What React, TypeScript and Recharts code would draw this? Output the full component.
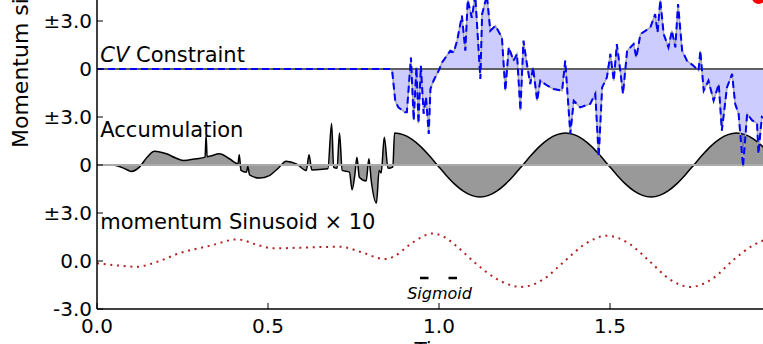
import React from 'react';
import {
  ComposedChart, Area, Line, Scatter, XAxis, YAxis, ReferenceLine, ReferenceDot, Label, Legend,
} from 'recharts';

// offsets of the three stacked traces on the shared y axis
const cvOffset = 12;
const accOffset = 6;
const sinOffset = 0;

const xTicks = [0, 0.5, 1, 1.5];
const xTickLabels = ['0.0', '0.5', '1.0', '1.5'];
const yTicks = [-3, 0, 3, 6, 9, 12, 15];
const yTickLabels = ['-3.0', '0.0', '±3.0', '0', '±3.0', '0', '±3.0'];

const cvConstraint = [
  { t: 0, v: 0 }, { t: 0.858, v: 0 }, { t: 0.863, v: -0.1 }, { t: 0.872, v: -1.98 }, { t: 0.881, v: -2.4 },
  { t: 0.901, v: -2.7 }, { t: 0.906, v: -2.7 }, { t: 0.918, v: 0.72 }, { t: 0.926, v: -3.2 }, { t: 0.934, v: 0.1 },
  { t: 0.94, v: -3.4 }, { t: 0.947, v: 0.2 }, { t: 0.955, v: -2.8 }, { t: 0.962, v: -1.77 }, { t: 0.97, v: -4.06 },
  { t: 0.975, v: -1.25 }, { t: 0.984, v: -0.73 }, { t: 0.999, v: -0.1 }, { t: 1.009, v: 0.41 }, { t: 1.033, v: 1.14 },
  { t: 1.043, v: 1.04 }, { t: 1.053, v: 1.77 }, { t: 1.067, v: 3.33 }, { t: 1.077, v: 1.14 }, { t: 1.084, v: 4.3 },
  { t: 1.096, v: 3.2 }, { t: 1.106, v: 4.6 }, { t: 1.121, v: -0.62 }, { t: 1.126, v: 3.43 }, { t: 1.14, v: 4.6 },
  { t: 1.15, v: 2.39 }, { t: 1.165, v: 2.7 }, { t: 1.184, v: 1.97 }, { t: 1.194, v: -1.35 }, { t: 1.204, v: 1.35 },
  { t: 1.218, v: 0.52 }, { t: 1.228, v: 0.94 }, { t: 1.238, v: -2.6 }, { t: 1.247, v: 1.77 }, { t: 1.257, v: 0.31 },
  { t: 1.267, v: -0.94 }, { t: 1.275, v: 0.1 }, { t: 1.287, v: -1.98 }, { t: 1.296, v: -0.73 }, { t: 1.314, v: -1.0 },
  { t: 1.335, v: -1.25 }, { t: 1.36, v: -1.35 }, { t: 1.369, v: 0.52 }, { t: 1.384, v: -4.06 }, { t: 1.394, v: -1.98 },
  { t: 1.413, v: -2.4 }, { t: 1.442, v: -2.18 }, { t: 1.457, v: -1.56 }, { t: 1.467, v: -5.5 }, { t: 1.477, v: -1.15 },
  { t: 1.491, v: -0.52 }, { t: 1.501, v: 0.94 }, { t: 1.511, v: -0.73 }, { t: 1.52, v: 1.56 }, { t: 1.53, v: -0.1 },
  { t: 1.538, v: -1.56 }, { t: 1.55, v: 1.14 }, { t: 1.569, v: 1.56 }, { t: 1.577, v: 0.72 }, { t: 1.589, v: 2.18 },
  { t: 1.618, v: 2.6 }, { t: 1.632, v: 3.43 }, { t: 1.639, v: 2.29 }, { t: 1.647, v: 4.3 }, { t: 1.657, v: 2.18 },
  { t: 1.671, v: 1.35 }, { t: 1.681, v: 2.39 }, { t: 1.691, v: 1.35 }, { t: 1.699, v: 4.06 }, { t: 1.711, v: 1.14 },
  { t: 1.725, v: 0.52 }, { t: 1.744, v: 0.2 }, { t: 1.759, v: -0.1 }, { t: 1.764, v: 1.14 }, { t: 1.774, v: -1.35 },
  { t: 1.788, v: -0.73 }, { t: 1.803, v: -1.98 }, { t: 1.818, v: -0.94 }, { t: 1.827, v: -3.85 }, { t: 1.842, v: -1.15 },
  { t: 1.857, v: -0.31 }, { t: 1.866, v: -2.18 }, { t: 1.876, v: -2.8 }, { t: 1.889, v: -6.1 }, { t: 1.901, v: -2.8 },
  { t: 1.915, v: -3.2 }, { t: 1.93, v: -3.4 }, { t: 1.934, v: -5.3 }, { t: 1.944, v: -3.0 }, { t: 1.96, v: -3.2 },
  { t: 1.98, v: -2.6 }, { t: 2.0, v: -2.8 },
];

const accumulation = [
  { t: 0, v: 0 }, { t: 0.047, v: 0 }, { t: 0.083, v: -0.25 }, { t: 0.1, v: -0.4 }, { t: 0.124, v: -0.13 },
  { t: 0.147, v: 0.5 }, { t: 0.168, v: 0.86 }, { t: 0.203, v: 0.7 }, { t: 0.229, v: 0.45 }, { t: 0.252, v: 0.28 },
  { t: 0.29, v: 0.39 }, { t: 0.316, v: 0.49 }, { t: 0.319, v: 1.84 }, { t: 0.322, v: 0.52 }, { t: 0.358, v: 0.7 },
  { t: 0.387, v: 0.39 }, { t: 0.412, v: 0.07 }, { t: 0.416, v: 0.64 }, { t: 0.421, v: -0.34 }, { t: 0.437, v: -0.45 },
  { t: 0.441, v: -0.1 }, { t: 0.446, v: -0.62 }, { t: 0.475, v: -0.82 }, { t: 0.504, v: -0.66 }, { t: 0.53, v: -0.2 },
  { t: 0.553, v: 0.24 }, { t: 0.583, v: 0.07 }, { t: 0.612, v: -0.34 }, { t: 0.62, v: 0.64 }, { t: 0.628, v: -0.31 },
  { t: 0.675, v: -0.24 }, { t: 0.686, v: 2.6 }, { t: 0.692, v: -0.14 }, { t: 0.702, v: -0.2 }, { t: 0.709, v: 2.0 },
  { t: 0.717, v: -0.34 }, { t: 0.738, v: -0.45 }, { t: 0.746, v: -1.55 }, { t: 0.754, v: -0.6 }, { t: 0.76, v: 0.49 },
  { t: 0.767, v: -0.76 }, { t: 0.787, v: -1.0 }, { t: 0.795, v: 0.39 }, { t: 0.802, v: -1.0 }, { t: 0.817, v: -2.38 },
  { t: 0.825, v: -0.34 }, { t: 0.831, v: -0.5 }, { t: 0.84, v: 1.74 }, { t: 0.851, v: -0.2 }, { t: 0.865, v: -0.13 },
  { t: 0.87, v: 2.0 }, { t: 0.895, v: 1.9 }, { t: 0.92, v: 1.62 }, { t: 0.945, v: 1.18 }, { t: 0.97, v: 0.62 },
  { t: 0.995, v: 0 }, { t: 1.02, v: -0.62 }, { t: 1.045, v: -1.18 }, { t: 1.07, v: -1.62 }, { t: 1.095, v: -1.9 },
  { t: 1.12, v: -2.0 }, { t: 1.145, v: -1.9 }, { t: 1.17, v: -1.62 }, { t: 1.195, v: -1.18 }, { t: 1.22, v: -0.62 },
  { t: 1.245, v: 0 }, { t: 1.27, v: 0.62 }, { t: 1.295, v: 1.18 }, { t: 1.32, v: 1.62 }, { t: 1.345, v: 1.9 },
  { t: 1.37, v: 2.0 }, { t: 1.395, v: 1.9 }, { t: 1.42, v: 1.62 }, { t: 1.445, v: 1.18 }, { t: 1.47, v: 0.62 },
  { t: 1.495, v: 0 }, { t: 1.52, v: -0.62 }, { t: 1.545, v: -1.18 }, { t: 1.57, v: -1.62 }, { t: 1.595, v: -1.9 },
  { t: 1.62, v: -2.0 }, { t: 1.645, v: -1.9 }, { t: 1.67, v: -1.62 }, { t: 1.695, v: -1.18 }, { t: 1.72, v: -0.62 },
  { t: 1.745, v: 0 }, { t: 1.77, v: 0.62 }, { t: 1.795, v: 1.18 }, { t: 1.82, v: 1.62 }, { t: 1.845, v: 1.9 },
  { t: 1.87, v: 2.0 }, { t: 1.895, v: 1.9 }, { t: 1.92, v: 1.62 }, { t: 1.945, v: 1.18 }, { t: 1.97, v: 0.62 },
  { t: 1.995, v: 0 },
];

const momentumSinusoid = [
  { t: 0, v: -0.14 }, { t: 0.06, v: -0.28 }, { t: 0.115, v: -0.36 }, { t: 0.18, v: -0.02 }, { t: 0.24, v: 0.48 },
  { t: 0.33, v: 0.95 }, { t: 0.41, v: 1.35 }, { t: 0.47, v: 1.0 }, { t: 0.515, v: 0.79 }, { t: 0.62, v: 0.85 },
  { t: 0.71, v: 0.89 }, { t: 0.78, v: 0.5 }, { t: 0.84, v: 0.12 }, { t: 0.87, v: 0.3 }, { t: 0.91, v: 0.95 },
  { t: 0.945, v: 1.45 }, { t: 0.98, v: 1.72 }, { t: 1.015, v: 1.5 }, { t: 1.05, v: 0.95 }, { t: 1.11, v: -0.2 },
  { t: 1.175, v: -1.2 }, { t: 1.24, v: -1.62 }, { t: 1.305, v: -1.15 }, { t: 1.365, v: -0.05 }, { t: 1.43, v: 1.1 },
  { t: 1.49, v: 1.58 }, { t: 1.555, v: 1.1 }, { t: 1.615, v: 0 }, { t: 1.675, v: -1.15 }, { t: 1.735, v: -1.62 },
  { t: 1.8, v: -1.1 }, { t: 1.86, v: 0.05 }, { t: 1.92, v: 1.0 }, { t: 1.95, v: 1.3 }, { t: 1.99, v: 1.6 },
];

const redMarker = [{ t: 1.935, v: 16.5 }];

const annotations = [
  { t: 0.0097, v: 12.42, italic: 'CV', text: ' Constraint' },
  { t: 0.0097, v: 7.74, italic: '', text: 'Accumulation' },
  { t: 0.0097, v: 1.99, italic: '', text: 'momentum Sinusoid × 10' },
];

const FONT = 'DejaVu Sans';

const YTick = ({ x, y, payload }: any) => {
  const i = yTicks.indexOf(payload.value);
  return (
    <g>
      <line x1={x} x2={x + 6} y1={y} y2={y} stroke="#000" strokeWidth={1} />
      <text x={x - 5} y={y + 7} textAnchor="end" fontSize={20} fontFamily={FONT} fill="#000">{yTickLabels[i]}</text>
    </g>
  );
};

const XTick = ({ x, y, payload }: any) => {
  const i = xTicks.indexOf(payload.value);
  return (
    <g>
      <line x1={x} x2={x} y1={y} y2={y - 6} stroke="#000" strokeWidth={1} />
      <text x={x} y={y + 24} textAnchor="middle" fontSize={20} fontFamily={FONT} fill="#000">{xTickLabels[i]}</text>
    </g>
  );
};

const annotationLabel = (a: typeof annotations[number]) => ({ viewBox }: any) => (
  <text x={viewBox.x} y={viewBox.y} fontSize={21} fontFamily={FONT} fill="#000">
    {a.italic ? <tspan fontStyle="italic">{a.italic}</tspan> : null}
    <tspan>{a.text}</tspan>
  </text>
);

const SigmoidLegend = ({ payload }: any) => {
  const item = (payload || []).find((p: any) => p.value === 'Sigmoid');
  if (!item) return null;
  return (
    <svg width={70} height={34}>
      <line x1={15} x2={52} y1={4} y2={4} stroke="#000" strokeWidth={2.5} strokeDasharray="8.5 20" />
      <text x={34.5} y={25} textAnchor="middle" fontSize={16} fontStyle="italic" fontFamily={FONT} fill="#000">
        {item.value}
      </text>
    </svg>
  );
};

export default function App() {
  return (
    <div style={{ position: 'fixed', left: 0, top: 0, width: 763, height: 344, overflow: 'hidden', background: '#fff' }}>
      <div style={{ position: 'absolute', left: 0, top: -60 }}>
        <ComposedChart
          width={800}
          height={420}
          margin={{ top: 33, right: 19, bottom: 11, left: 0 }}
          style={{ fontFamily: FONT }}
        >
          <XAxis
            dataKey="t"
            type="number"
            domain={[0, 2]}
            ticks={xTicks}
            interval={0}
            allowDataOverflow
            height={40}
            tickSize={0}
            tickMargin={0}
            tickLine={false}
            tick={<XTick />}
            axisLine={{ stroke: '#000', strokeWidth: 1.5 }}
          >
            <Label
              content={() => (
                <text x={439} y={416} textAnchor="middle" fontSize={20} fontFamily={FONT} fill="#000">Time</text>
              )}
            />
          </XAxis>
          <YAxis
            type="number"
            domain={[-3, 18]}
            ticks={yTicks}
            interval={0}
            allowDataOverflow
            width={97}
            tickSize={0}
            tickMargin={0}
            tickLine={false}
            tick={<YTick />}
            axisLine={{ stroke: '#000', strokeWidth: 1.5 }}
          >
            <Label
              content={() => (
                <text transform="translate(28,208) rotate(-90)" fontSize={22} fontFamily={FONT} fill="#000">
                  Momentum signal
                </text>
              )}
            />
          </YAxis>

          <Area
            data={accumulation}
            dataKey={(d: any) => d.v + accOffset}
            baseValue={accOffset}
            type="monotone"
            stroke="#000"
            strokeWidth={1.5}
            fill="#999999"
            fillOpacity={1}
            legendType="none"
            isAnimationActive={false}
          />
          <ReferenceLine y={accOffset} stroke="#aaaaaa" strokeWidth={2} />

          <Area
            data={cvConstraint}
            dataKey={(d: any) => d.v + cvOffset}
            baseValue={cvOffset}
            type="linear"
            stroke="#a8a8a8"
            strokeWidth={1.5}
            fill="#0000ff"
            fillOpacity={0.2}
            legendType="none"
            isAnimationActive={false}
          />
          <ReferenceLine y={cvOffset} stroke="#606060" strokeWidth={2} />
          <Line
            data={cvConstraint}
            dataKey={(d: any) => d.v + cvOffset}
            type="linear"
            stroke="#0000ff"
            strokeWidth={2}
            strokeDasharray="7 4"
            dot={false}
            legendType="none"
            isAnimationActive={false}
          />

          <Line
            data={momentumSinusoid}
            dataKey={(d: any) => d.v + sinOffset}
            type="monotone"
            stroke="#b22222"
            strokeWidth={2}
            strokeDasharray="2 4.7"
            dot={false}
            legendType="none"
            isAnimationActive={false}
          />

          <Line
            data={[]}
            dataKey="v"
            name="Sigmoid"
            stroke="#000"
            strokeDasharray="8 20"
            dot={false}
            isAnimationActive={false}
          />

          <Scatter
            data={redMarker}
            dataKey="v"
            legendType="none"
            isAnimationActive={false}
            shape={(p: any) => <circle cx={p.cx} cy={p.cy} r={7} fill="#ff0000" />}
          />

          {annotations.map((a) => (
            <ReferenceDot key={a.text} x={a.t} y={a.v} r={0} fill="none" stroke="none" label={annotationLabel(a)} />
          ))}

          <Legend
            layout="horizontal"
            verticalAlign="middle"
            align="center"
            content={<SigmoidLegend />}
            wrapperStyle={{ left: 405, top: 334, width: 70, height: 34 }}
          />
        </ComposedChart>
      </div>
    </div>
  );
}
